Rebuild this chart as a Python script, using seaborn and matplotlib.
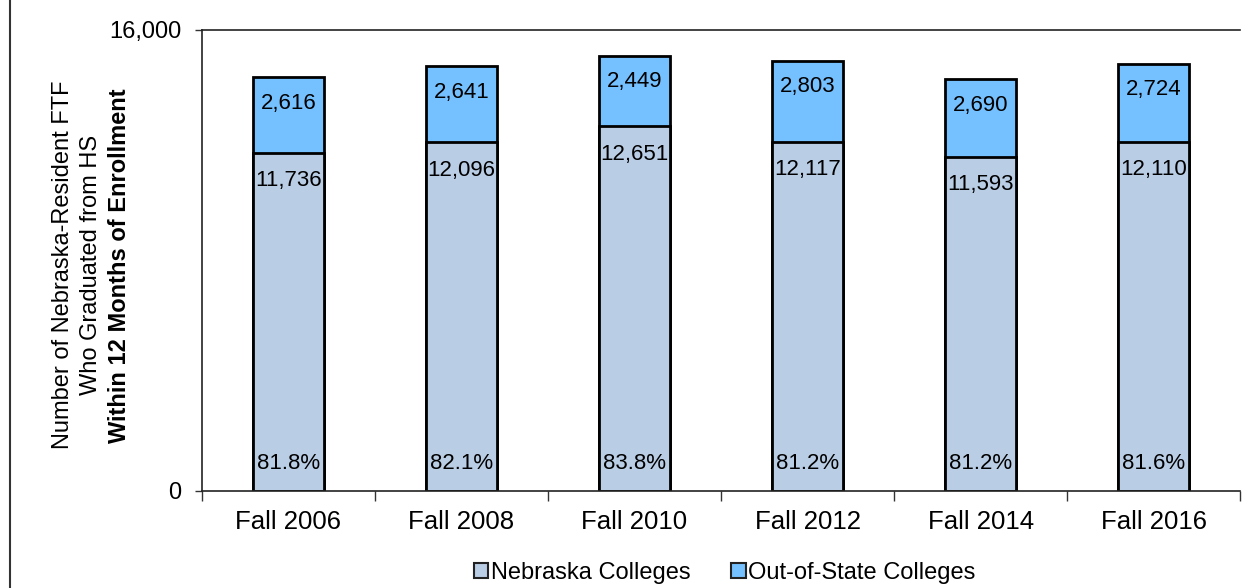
import pandas as pd
import seaborn as sns
import matplotlib.pyplot as plt
from matplotlib.patches import Patch, Rectangle

# Data
terms = ['Fall 2006', 'Fall 2008', 'Fall 2010', 'Fall 2012', 'Fall 2014', 'Fall 2016']
nebraska = [11736, 12096, 12651, 12117, 11593, 12110]
out_of_state = [2616, 2641, 2449, 2803, 2690, 2724]
ne_share = ['81.8%', '82.1%', '83.8%', '81.2%', '81.2%', '81.6%']

df = pd.DataFrame({'term': terms, 'nebraska': nebraska, 'out_of_state': out_of_state})
df['total'] = df['nebraska'] + df['out_of_state']

ne_color = '#B9CDE5'
oos_color = '#75C1FF'

sns.set_style('white')
plt.rcParams['font.family'] = ['Liberation Sans', 'DejaVu Sans']
plt.rcParams['text.color'] = 'black'
plt.rcParams['xtick.color'] = 'black'
plt.rcParams['ytick.color'] = 'black'
plt.rcParams['axes.labelcolor'] = 'black'

fig = plt.figure(figsize=(12.54, 5.88), dpi=100)
ax = fig.add_axes([0.161, 0.165, 0.828, 0.784])

# Stacked bars: draw the totals first, then the Nebraska part over them
sns.barplot(data=df, x='term', y='total', color=oos_color, width=0.41,
            edgecolor='black', linewidth=2, saturation=1, errorbar=None, ax=ax)
sns.barplot(data=df, x='term', y='nebraska', color=ne_color, width=0.41,
            edgecolor='black', linewidth=2, saturation=1, errorbar=None, ax=ax)

# Value labels
for i, row in df.iterrows():
    ax.annotate(f"{row['out_of_state']:,}", (i, row['total']), xytext=(0, -18.5),
                textcoords='offset points', ha='center', va='center', fontsize=16)
    ax.annotate(f"{row['nebraska']:,}", (i, row['nebraska']), xytext=(0, -20),
                textcoords='offset points', ha='center', va='center', fontsize=16)
    ax.annotate(ne_share[i], (i, 0), xytext=(0, 20),
                textcoords='offset points', ha='center', va='center', fontsize=16)

# Axes styling
ax.set_ylim(0, 16000)
ax.set_xlim(-0.5, 5.5)
ax.set_yticks([0, 16000])
ax.set_yticklabels(['0', '16,000'])
ax.set_xticks(range(len(terms)))
ax.set_xticklabels(terms)
ax.set_xticks([x - 0.5 for x in range(len(terms) + 1)], minor=True)
ax.tick_params(axis='y', which='major', direction='out', length=5, width=1,
               color='#333333', labelsize=17, pad=10, left=True)
ax.tick_params(axis='x', which='major', length=0, labelsize=18.5, pad=14)
ax.tick_params(axis='x', which='minor', direction='out', length=7, width=1,
               color='#333333', bottom=True)
ax.set_xlabel('')
ax.set_ylabel('')
for side in ['left', 'bottom', 'top']:
    ax.spines[side].set_visible(True)
    ax.spines[side].set_color('#222222')
    ax.spines[side].set_linewidth(1.2)
ax.spines['right'].set_visible(False)

# Three-line y label, last line in bold
fig.text(63 / 1254, 0.549, 'Number of Nebraska-Resident FTF', rotation=90,
         ha='center', va='center', fontsize=17)
fig.text(91 / 1254, 0.549, 'Who Graduated from HS', rotation=90,
         ha='center', va='center', fontsize=17)
fig.text(120 / 1254, 0.549, 'Within 12 Months of Enrollment', rotation=90,
         ha='center', va='center', fontsize=17, fontweight='bold')

# Legend below the axes
handles = [Patch(facecolor=ne_color, edgecolor='#222222', linewidth=1.5),
           Patch(facecolor=oos_color, edgecolor='#222222', linewidth=1.5)]
fig.legend(handles, ['Nebraska Colleges', 'Out-of-State Colleges'], loc='center',
           bbox_to_anchor=(0.578, 0.026), ncol=2, frameon=False, fontsize=17,
           handlelength=0.62, handleheight=0.62, handletextpad=0.12, columnspacing=1.7)

# Outer chart border (runs past the right and bottom edges in the original)
fig.patches.append(Rectangle((10 / 1254, -0.2), 1.5, 1.2 + (588 - 8) / 588,
                             transform=fig.transFigure, fill=False,
                             edgecolor='#333333', linewidth=1.5))

fig.savefig('out.png', dpi=100)
